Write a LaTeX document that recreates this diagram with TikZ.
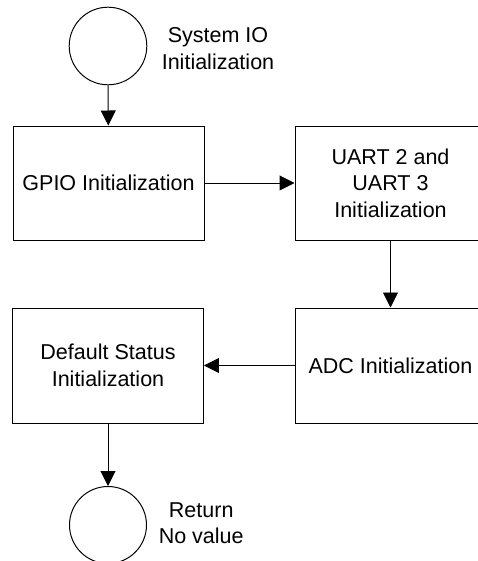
\documentclass[tikz,border=0pt]{standalone}
\usepackage{fontspec}
\setmainfont{Liberation Sans}
\usetikzlibrary{arrows.meta}

\begin{document}
\begin{tikzpicture}[
    box/.style={draw, line width=0.7pt, minimum width=4.775cm, minimum height=2.85cm, align=center, inner sep=0pt},
    term/.style={draw, circle, line width=0.7pt, minimum size=1.94cm, inner sep=0pt},
    note/.style={align=center, inner sep=0pt},
    flow/.style={-{Triangle[length=0.375cm,width=0.375cm]}, line width=0.7pt},
    font=\fontsize{15.3}{18.8}\selectfont]
%      \draw [help lines, opacity=0.5] (0,0) grid (12,14);
      \clip (0,0) rectangle (11.95,14.025);
      \node [term] (sysio) at (2.7,12.875) {};
      \node [note] (sysiolbl) at (5.45,12.81) {System IO\\Initialization};

      \node [box] (gpio) at (2.7125,9.45) {GPIO Initialization};
      \node [box] (uart) at (9.7625,9.45) {UART 2 and\\UART 3\\Initialization};
      \node [box, minimum height=2.875cm] (adc) at (9.7625,4.8875) {ADC Initialization};
      \node [box, minimum height=2.875cm] (dflt) at (2.7,4.8875) {Default Status\\Initialization};

      \node [term, minimum size=1.925cm] (ret) at (2.7,0.9) {};
      \node [note] (retlbl) at (5.03,0.95) {Return\\No value};

      \draw [flow] (sysio) -- (gpio);
      \draw [flow] (gpio) -- (uart);
      \draw [flow] (uart) -- (adc);
      \draw [flow] (adc) -- (dflt);
      \draw [flow] (dflt) -- (ret);
\end{tikzpicture}
\end{document}
